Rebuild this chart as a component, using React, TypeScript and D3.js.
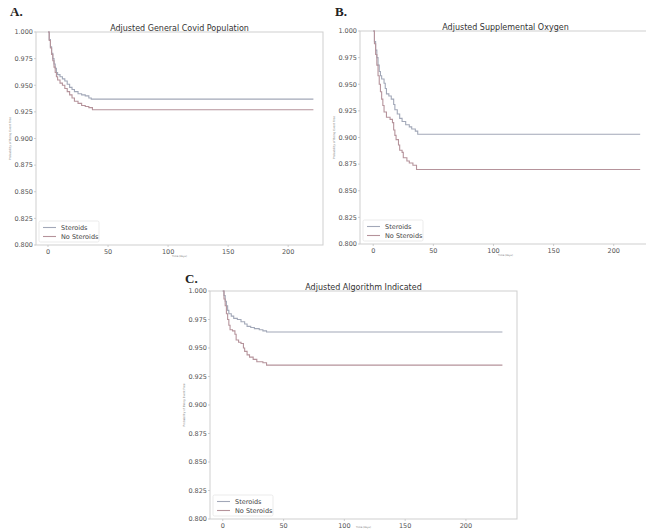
import React from 'react';
import * as d3 from 'd3';

// survival curves: [day, probability event free]
const generalSteroids: [number, number][] = [
  [0, 1.0], [1, 0.993], [2, 0.986], [3, 0.98], [4, 0.975], [5, 0.97], [6, 0.966], [7, 0.962],
  [8, 0.96], [10, 0.958], [12, 0.956], [14, 0.954], [16, 0.951], [18, 0.948], [20, 0.946],
  [22, 0.944], [25, 0.942], [28, 0.941], [31, 0.94], [34, 0.938], [36, 0.937], [221, 0.937],
];
const generalNoSteroids: [number, number][] = [
  [0, 1.0], [1, 0.992], [2, 0.985], [3, 0.979], [4, 0.973], [5, 0.967], [6, 0.962], [7, 0.958],
  [8, 0.955], [10, 0.952], [12, 0.95], [14, 0.947], [16, 0.944], [18, 0.941], [20, 0.938],
  [22, 0.935], [25, 0.933], [28, 0.931], [31, 0.93], [34, 0.929], [37, 0.927], [221, 0.927],
];
const oxygenSteroids: [number, number][] = [
  [0, 1.0], [1, 0.99], [2, 0.982], [3, 0.975], [4, 0.968], [5, 0.962], [6, 0.958], [7, 0.955],
  [9, 0.951], [10, 0.946], [11, 0.941], [13, 0.939], [15, 0.936], [17, 0.931], [18, 0.926],
  [20, 0.922], [22, 0.918], [24, 0.915], [27, 0.912], [30, 0.91], [32, 0.908], [35, 0.906],
  [37, 0.903], [222, 0.903],
];
const oxygenNoSteroids: [number, number][] = [
  [0, 1.0], [1, 0.988], [2, 0.978], [3, 0.968], [4, 0.958], [5, 0.95], [6, 0.943], [7, 0.936],
  [8, 0.93], [9, 0.924], [11, 0.919], [14, 0.917], [16, 0.914], [17, 0.907], [18, 0.902],
  [19, 0.898], [21, 0.893], [22, 0.888], [24, 0.886], [25, 0.881], [28, 0.878], [30, 0.876],
  [33, 0.874], [36, 0.87], [222, 0.87],
];
const algorithmSteroids: [number, number][] = [
  [0, 1.0], [1, 0.996], [2, 0.991], [3, 0.987], [4, 0.983], [5, 0.98], [7, 0.978], [9, 0.976],
  [12, 0.975], [15, 0.973], [18, 0.971], [20, 0.969], [23, 0.968], [26, 0.967], [30, 0.966],
  [33, 0.965], [36, 0.964], [230, 0.964],
];
const algorithmNoSteroids: [number, number][] = [
  [0, 1.0], [1, 0.993], [2, 0.987], [3, 0.98], [4, 0.975], [5, 0.97], [6, 0.966], [8, 0.965],
  [10, 0.962], [11, 0.957], [13, 0.955], [15, 0.954], [17, 0.95], [18, 0.947], [20, 0.944],
  [22, 0.942], [25, 0.94], [28, 0.938], [33, 0.937], [36, 0.935], [230, 0.935],
];

const seriesNames = ['Steroids', 'No Steroids'];
const panelTitles = ['Adjusted General Covid Population', 'Adjusted Supplemental Oxygen', 'Adjusted Algorithm Indicated'];
const panelLetters = ['A.', 'B.', 'C.'];
const xTicks = [0, 50, 100, 150, 200];
const yTicks = [0.8, 0.825, 0.85, 0.875, 0.9, 0.925, 0.95, 0.975, 1.0];
const yLabel = 'Probability of Being Event Free';
const xLabel = 'Time (days)';

const colors = ['#a2a8b8', '#b5939b'];
const font = 'DejaVu Sans, sans-serif';

type Box = { left: number; right: number; top: number; bottom: number; xDomain: [number, number]; letterX: number; letterY: number };

const boxes: Box[] = [
  { left: 36, right: 323, top: 32, bottom: 245, xDomain: [-10, 229], letterX: 10, letterY: 16 },
  { left: 360, right: 651, top: 31, bottom: 244, xDomain: [-11, 231], letterX: 335, letterY: 16 },
  { left: 210, right: 517, top: 291, bottom: 519, xDomain: [-10.5, 242], letterX: 185, letterY: 283 },
];

const panelData = [
  [generalSteroids, generalNoSteroids],
  [oxygenSteroids, oxygenNoSteroids],
  [algorithmSteroids, algorithmNoSteroids],
];

function Panel({ i }: { i: number }) {
  const b = boxes[i];
  const x = d3.scaleLinear().domain(b.xDomain).range([b.left, b.right]);
  const y = d3.scaleLinear().domain([0.8, 1.0]).range([b.bottom, b.top]);
  const line = d3.line<[number, number]>()
    .x(d => x(d[0]))
    .y(d => y(d[1]))
    .curve(d3.curveStepAfter);

  const midY = (b.top + b.bottom) / 2;
  const legX = b.left + 3;
  const legY = b.bottom - 24;
  const xLabelY = Math.min(b.bottom + 12, 527.5);

  return (
    <g>
      <text x={b.letterX} y={b.letterY} fontFamily="Liberation Serif, serif" fontWeight="bold" fontSize={13} fill="#222">
        {panelLetters[i]}
      </text>
      <rect x={b.left} y={b.top} width={b.right - b.left} height={b.bottom - b.top} fill="none" stroke="#cfcfcf" strokeWidth={1} />
      <text x={(b.left + b.right) / 2} y={b.top - 1} textAnchor="middle" fontFamily={font} fontSize={8} fill="#333">
        {panelTitles[i]}
      </text>
      {yTicks.map(t => (
        <g key={t}>
          <line x1={b.left - 2} x2={b.left} y1={y(t)} y2={y(t)} stroke="#bbb" strokeWidth={0.7} />
          <text x={b.left - 3} y={y(t)} dy="0.35em" textAnchor="end" fontFamily={font} fontSize={6.5} fill="#555">
            {d3.format('.3f')(t)}
          </text>
        </g>
      ))}
      {xTicks.map(t => (
        <g key={t}>
          <line x1={x(t)} x2={x(t)} y1={b.bottom} y2={b.bottom + 2} stroke="#bbb" strokeWidth={0.7} />
          <text x={x(t)} y={b.bottom + 8.5} textAnchor="middle" fontFamily={font} fontSize={6.5} fill="#555">
            {t}
          </text>
        </g>
      ))}
      <text x={(b.left + b.right) / 2} y={xLabelY} textAnchor="middle" fontFamily={font} fontSize={2.5} fill="#777">
        {xLabel}
      </text>
      <text transform={`translate(${b.left - 25},${midY}) rotate(-90)`} textAnchor="middle" fontFamily={font} fontSize={2.8} fill="#777">
        {yLabel}
      </text>
      {panelData[i].map((s, k) => (
        <path key={k} d={line(s) || ''} fill="none" stroke={colors[k]} strokeWidth={1.1} />
      ))}
      <rect x={legX} y={legY} width={60} height={21} fill="white" stroke="#e2e2e2" strokeWidth={0.7} rx={1.5} />
      {seriesNames.map((n, k) => (
        <g key={n}>
          <line x1={legX + 4} x2={legX + 17} y1={legY + 6.5 + k * 9} y2={legY + 6.5 + k * 9} stroke={colors[k]} strokeWidth={1.1} />
          <text x={legX + 22} y={legY + 6.5 + k * 9} dy="0.35em" fontFamily={font} fontSize={6.5} fill="#444">
            {n}
          </text>
        </g>
      ))}
    </g>
  );
}

export default function App() {
  return (
    <svg width={646} height={530} style={{ position: 'absolute', left: 0, top: 0, background: 'white' }}>
      {boxes.map((_, i) => <Panel key={i} i={i} />)}
    </svg>
  );
}
